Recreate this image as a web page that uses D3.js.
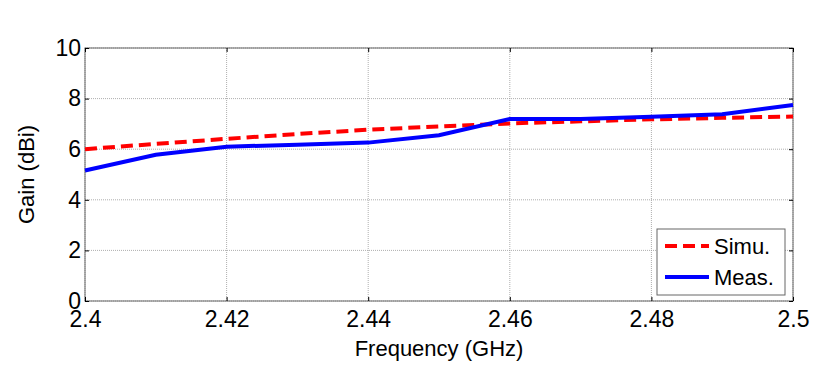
<!DOCTYPE html>
<html>
<head>
<meta charset="utf-8">
<script src="https://cdn.jsdelivr.net/npm/d3@7"></script>
<style>
  body { margin: 0; background: #fff; }
  text { font-family: "Liberation Sans", Arial, sans-serif; fill: #000; }
</style>
</head>
<body>
<div id="chart"></div>
<script>
// frequency (GHz) sampled every 10 MHz
var freq = [2.40, 2.41, 2.42, 2.43, 2.44, 2.45, 2.46, 2.47, 2.48, 2.49, 2.50];
var simu = [6.00, 6.21, 6.41, 6.60, 6.77, 6.90, 7.02, 7.10, 7.18, 7.24, 7.29];
var meas = [5.16, 5.78, 6.10, 6.18, 6.26, 6.55, 7.19, 7.19, 7.28, 7.38, 7.75];
var xTicks = [2.4, 2.42, 2.44, 2.46, 2.48, 2.5];
var yTicks = [0, 2, 4, 6, 8, 10];

var margin = { top: 48, right: 38, bottom: 86, left: 85 };
var width = 831 - margin.left - margin.right,
    height = 387 - margin.top - margin.bottom;

var svg = d3.select("#chart").append("svg")
    .attr("width", 831)
    .attr("height", 387)
    .append("g")
    .attr("transform", "translate(" + margin.left + "," + margin.top + ")");

var x = d3.scaleLinear().domain([2.4, 2.5]).range([0, width]);
var y = d3.scaleLinear().domain([0, 10]).range([height, 0]);

// grid
svg.selectAll(".vgrid").data(xTicks).enter().append("line")
    .attr("x1", function (d) { return x(d); })
    .attr("x2", function (d) { return x(d); })
    .attr("y1", 0).attr("y2", height)
    .attr("stroke", "#999").attr("stroke-width", 0.8)
    .attr("stroke-dasharray", "1,1");
svg.selectAll(".hgrid").data(yTicks).enter().append("line")
    .attr("x1", 0).attr("x2", width)
    .attr("y1", function (d) { return y(d); })
    .attr("y2", function (d) { return y(d); })
    .attr("stroke", "#999").attr("stroke-width", 0.8)
    .attr("stroke-dasharray", "1,1");

// box
svg.append("rect")
    .attr("width", width).attr("height", height)
    .attr("fill", "none").attr("stroke", "#666").attr("stroke-width", 1);

// axes with inward ticks
var xAxis = svg.append("g").attr("transform", "translate(0," + height + ")")
    .call(d3.axisBottom(x).tickValues(xTicks).tickSize(-4).tickPadding(10)
        .tickFormat(function (d) { return d3.format("")(+d.toFixed(2)); }));
var yAxis = svg.append("g")
    .call(d3.axisLeft(y).tickValues(yTicks).tickSize(-4).tickPadding(4));
svg.append("g").attr("transform", "translate(" + width + ",0)")
    .call(d3.axisRight(y).tickValues(yTicks).tickSize(-4).tickFormat(""));
svg.append("g")
    .call(d3.axisTop(x).tickValues(xTicks).tickSize(-4).tickFormat(""));

svg.selectAll(".domain").remove();
svg.selectAll(".tick line").attr("stroke", "#000");
xAxis.selectAll("text").style("font-size", "23px").attr("dy", "0.71em");
yAxis.selectAll("text").style("font-size", "23px");

// lines
var line = function (vals) {
    return d3.line()
        .x(function (d, i) { return x(freq[i]); })
        .y(function (d) { return y(d); })(vals);
};

svg.append("path").attr("d", line(simu))
    .attr("fill", "none").attr("stroke", "#ff0000").attr("stroke-width", 4)
    .attr("stroke-dasharray", "12,6");
svg.append("path").attr("d", line(meas))
    .attr("fill", "none").attr("stroke", "#0000ff").attr("stroke-width", 4);

// axis titles
svg.append("text")
    .attr("x", width / 2).attr("y", height + 55)
    .attr("text-anchor", "middle").style("font-size", "22px")
    .text("Frequency (GHz)");
svg.append("text")
    .attr("transform", "translate(" + (-51) + "," + (height / 2) + ") rotate(-90)")
    .attr("text-anchor", "middle").style("font-size", "22px")
    .text("Gain (dBi)");

// legend
var lg = svg.append("g").attr("transform", "translate(" + (657 - margin.left) + "," + (229 - margin.top) + ")");
lg.append("rect").attr("width", 128).attr("height", 66)
    .attr("fill", "#fff").attr("stroke", "#666").attr("stroke-width", 1);
var legendItems = [
    { name: "Simu.", color: "#ff0000", dash: "12,6", ly: 17 },
    { name: "Meas.", color: "#0000ff", dash: null, ly: 48 }
];
legendItems.forEach(function (d) {
    lg.append("line").attr("x1", 8).attr("x2", 52)
        .attr("y1", d.ly).attr("y2", d.ly)
        .attr("stroke", d.color).attr("stroke-width", 4)
        .attr("stroke-dasharray", d.dash);
    lg.append("text").attr("x", 57).attr("y", d.ly).attr("dy", "0.35em")
        .style("font-size", "22px").text(d.name);
});
</script>
</body>
</html>
